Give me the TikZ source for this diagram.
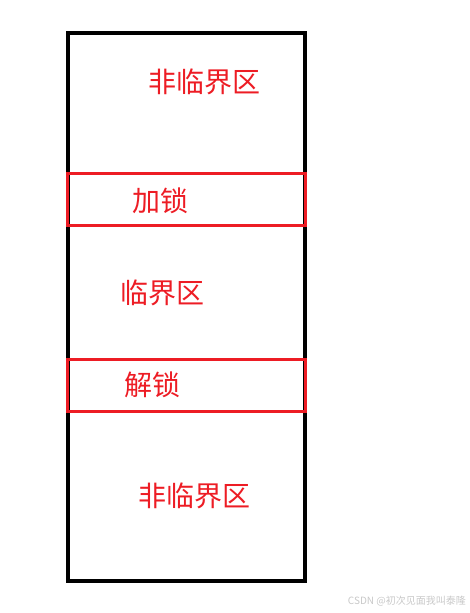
\documentclass[tikz,border=0pt]{standalone}
\usepackage{fontspec}
\newfontfamily\cjk{Noto Sans CJK SC}
\definecolor{lockred}{RGB}{237,28,36}
\definecolor{wmgray}{RGB}{200,200,200}
\begin{document}
\begin{tikzpicture}[x=1pt,y=-1pt,
  lbl/.style={text=lockred,font=\cjk\fontsize{28}{32}\selectfont,inner sep=0pt},
  frame/.style={draw=black,line width=3.2pt},
  lockbox/.style={draw=lockred,line width=3pt}]
\useasboundingbox (0,0) rectangle (469,613);
\draw[frame] (68,33) rectangle (305,581);
\draw[lockbox] (67.5,173.5) rectangle (305.5,225);
\draw[lockbox] (67.5,359.5) rectangle (305.5,411.5);
\node[lbl] (n1) at (204,82) {非临界区};
\node[lbl] (n2) at (160,201) {加锁};
\node[lbl] (n3) at (162,293) {临界区};
\node[lbl] (n4) at (152,385) {解锁};
\node[lbl] (n5) at (194,496) {非临界区};
\node[text=wmgray,font=\cjk\fontsize{10}{12}\selectfont,inner sep=0pt,anchor=east] (wm) at (466,601) {CSDN @初次见面我叫泰隆};
\end{tikzpicture}
\end{document}
